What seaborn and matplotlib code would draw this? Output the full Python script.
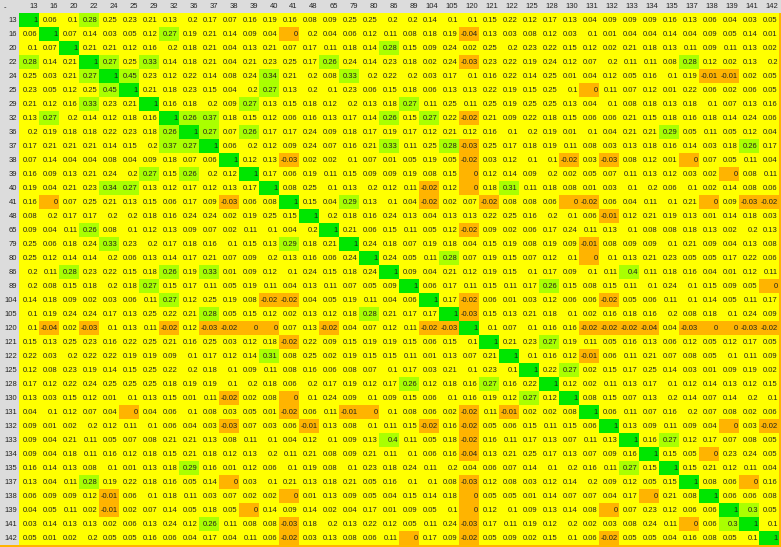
import matplotlib
matplotlib.use("Agg")
import matplotlib.pyplot as plt
import numpy as np
import seaborn as sns
from matplotlib.colors import ListedColormap, BoundaryNorm
from matplotlib.patches import Rectangle

labels = ["13", "16", "20", "22", "24", "25", "29", "32", "36", "37",
          "38", "39", "40", "41", "48", "65", "79", "80", "86", "89",
          "104", "105", "120", "121", "122", "125", "128", "130", "131", "132",
          "133", "134", "135", "137", "138", "139", "141", "142"]

# upper triangle of the correlation table, each row starts at the diagonal
row_13 = [1, 0.06, 0.1, 0.28, 0.25, 0.23, 0.21, 0.13, 0.2, 0.17, 0.07, 0.16, 0.19, 0.16, 0.08, 0.09, 0.25, 0.25, 0.2, 0.2,
          0.14, 0.1, 0.1, 0.15, 0.22, 0.12, 0.17, 0.13, 0.04, 0.09, 0.09, 0.09, 0.16, 0.13, 0.06, 0.04, 0.03, 0.05]
row_16 = [1, 0.07, 0.14, 0.03, 0.05, 0.12, 0.27, 0.19, 0.21, 0.14, 0.09, 0.04, 0, 0.2, 0.04, 0.06, 0.12, 0.11, 0.08,
          0.18, 0.19, -0.04, 0.13, 0.03, 0.08, 0.12, 0.03, 0.1, 0.01, 0.04, 0.04, 0.14, 0.04, 0.09, 0.05, 0.14, 0.01]
row_20 = [1, 0.21, 0.21, 0.12, 0.16, 0.2, 0.18, 0.21, 0.04, 0.13, 0.21, 0.07, 0.17, 0.11, 0.18, 0.14, 0.28, 0.15,
          0.09, 0.24, 0.02, 0.25, 0.2, 0.23, 0.22, 0.15, 0.12, 0.02, 0.21, 0.18, 0.13, 0.11, 0.09, 0.11, 0.13, 0.02]
row_22 = [1, 0.27, 0.25, 0.33, 0.14, 0.18, 0.21, 0.04, 0.21, 0.23, 0.25, 0.17, 0.26, 0.24, 0.14, 0.23, 0.18,
          0.02, 0.24, -0.03, 0.23, 0.22, 0.19, 0.24, 0.12, 0.07, 0.2, 0.11, 0.11, 0.08, 0.28, 0.12, 0.02, 0.13, 0.2]
row_24 = [1, 0.45, 0.23, 0.12, 0.22, 0.14, 0.08, 0.24, 0.34, 0.21, 0.2, 0.08, 0.33, 0.2, 0.22, 0.2,
          0.03, 0.17, 0.1, 0.16, 0.22, 0.14, 0.25, 0.01, 0.04, 0.12, 0.05, 0.16, 0.1, 0.19, -0.01, -0.01, 0.02, 0.05]
row_25 = [1, 0.21, 0.18, 0.23, 0.15, 0.04, 0.2, 0.27, 0.13, 0.2, 0.1, 0.23, 0.06, 0.15, 0.18,
          0.06, 0.13, 0.13, 0.22, 0.19, 0.15, 0.25, 0.1, 0, 0.11, 0.07, 0.12, 0.01, 0.22, 0.06, 0.02, 0.06, 0.05]
row_29 = [1, 0.16, 0.18, 0.2, 0.09, 0.27, 0.13, 0.15, 0.18, 0.12, 0.2, 0.13, 0.18, 0.27,
          0.11, 0.25, 0.11, 0.25, 0.19, 0.25, 0.25, 0.13, 0.04, 0.1, 0.08, 0.18, 0.13, 0.18, 0.1, 0.07, 0.13, 0.16]
row_32 = [1, 0.26, 0.37, 0.18, 0.15, 0.12, 0.06, 0.16, 0.13, 0.17, 0.14, 0.26, 0.15,
          0.27, 0.22, -0.02, 0.21, 0.09, 0.22, 0.18, 0.15, 0.06, 0.06, 0.21, 0.15, 0.18, 0.16, 0.18, 0.14, 0.24, 0.06]
row_36 = [1, 0.27, 0.07, 0.26, 0.17, 0.17, 0.24, 0.09, 0.18, 0.17, 0.19, 0.17,
          0.12, 0.21, 0.12, 0.16, 0.1, 0.2, 0.19, 0.01, 0.1, 0.04, 0.21, 0.21, 0.29, 0.05, 0.11, 0.05, 0.12, 0.04]
row_37 = [1, 0.06, 0.2, 0.12, 0.09, 0.24, 0.07, 0.16, 0.21, 0.33, 0.11,
          0.25, 0.28, -0.03, 0.25, 0.17, 0.18, 0.19, 0.11, 0.08, 0.03, 0.13, 0.18, 0.16, 0.14, 0.03, 0.18, 0.26, 0.17]
row_38 = [1, 0.12, 0.13, -0.03, 0.02, 0.02, 0.1, 0.07, 0.01, 0.05,
          0.19, 0.05, -0.02, 0.03, 0.12, 0.1, 0.1, -0.02, 0.03, -0.03, 0.08, 0.12, 0.01, 0, 0.07, 0.05, 0.11, 0.04]
row_39 = [1, 0.17, 0.06, 0.19, 0.11, 0.15, 0.09, 0.09, 0.19,
          0.08, 0.15, 0, 0.12, 0.14, 0.09, 0.2, 0.02, 0.05, 0.07, 0.11, 0.13, 0.12, 0.03, 0.02, 0, 0.08, 0.11]
row_40 = [1, 0.08, 0.25, 0.1, 0.13, 0.2, 0.12, 0.11,
          -0.02, 0.12, 0, 0.18, 0.31, 0.11, 0.18, 0.08, 0.01, 0.03, 0.1, 0.2, 0.06, 0.1, 0.02, 0.14, 0.08, 0.06]
row_41 = [1, 0.15, 0.04, 0.29, 0.13, 0.1, 0.04,
          -0.02, 0.02, 0.07, -0.02, 0.08, 0.08, 0.06, 0, -0.02, 0.06, 0.04, 0.11, 0.1, 0.21, 0, 0.09, -0.03, -0.02]
row_48 = [1, 0.2, 0.18, 0.16, 0.24, 0.13,
          0.04, 0.13, 0.13, 0.22, 0.25, 0.16, 0.2, 0.1, 0.06, -0.01, 0.12, 0.21, 0.19, 0.13, 0.01, 0.14, 0.18, 0.03]
row_65 = [1, 0.21, 0.06, 0.15, 0.11,
          0.05, 0.12, -0.02, 0.09, 0.02, 0.06, 0.17, 0.24, 0.11, 0.13, 0.1, 0.08, 0.08, 0.18, 0.13, 0.02, 0.2, 0.13]
row_79 = [1, 0.24, 0.18, 0.07,
          0.19, 0.18, 0.04, 0.15, 0.19, 0.08, 0.19, 0.09, -0.01, 0.08, 0.09, 0.09, 0.1, 0.21, 0.09, 0.04, 0.13, 0.08]
row_80 = [1, 0.24, 0.05,
          0.11, 0.28, 0.07, 0.19, 0.15, 0.07, 0.12, 0.1, 0, 0.1, 0.13, 0.21, 0.23, 0.05, 0.05, 0.17, 0.22, 0.06]
row_86 = [1, 0.09,
          0.04, 0.21, 0.12, 0.19, 0.15, 0.1, 0.17, 0.09, 0.1, 0.11, 0.4, 0.11, 0.18, 0.16, 0.04, 0.01, 0.12, 0.11]
row_89 = [1,
          0.06, 0.17, 0.11, 0.15, 0.11, 0.17, 0.26, 0.15, 0.08, 0.15, 0.11, 0.1, 0.24, 0.1, 0.15, 0.09, 0.05, 0]
row_104 = [1, 0.17, -0.02, 0.06, 0.01, 0.03, 0.12, 0.06, 0.06, -0.02, 0.05, 0.06, 0.11, 0.1, 0.14, 0.05, 0.11, 0.17]
row_105 = [1, -0.03, 0.15, 0.13, 0.21, 0.18, 0.1, 0.02, 0.16, 0.18, 0.16, 0.2, 0.08, 0.18, 0.1, 0.24, 0.09]
row_120 = [1, 0.1, 0.07, 0.1, 0.16, 0.16, -0.02, -0.02, -0.02, -0.04, 0.04, -0.03, 0, 0, -0.03, -0.02]
row_121 = [1, 0.21, 0.23, 0.27, 0.19, 0.11, 0.05, 0.16, 0.13, 0.06, 0.12, 0.05, 0.12, 0.17, 0.05]
row_122 = [1, 0.1, 0.16, 0.12, -0.01, 0.06, 0.11, 0.21, 0.07, 0.08, 0.05, 0.1, 0.11, 0.09]
row_125 = [1, 0.22, 0.27, 0.02, 0.15, 0.17, 0.25, 0.14, 0.03, 0.01, 0.09, 0.19, 0.02]
row_128 = [1, 0.12, 0.02, 0.11, 0.13, 0.17, 0.1, 0.12, 0.14, 0.13, 0.12, 0.15]
row_130 = [1, 0.08, 0.15, 0.07, 0.13, 0.2, 0.14, 0.07, 0.14, 0.2, 0.1]
row_131 = [1, 0.06, 0.11, 0.07, 0.16, 0.2, 0.07, 0.08, 0.02, 0.06]
row_132 = [1, 0.13, 0.09, 0.11, 0.09, 0.04, 0, 0.03, -0.02]
row_133 = [1, 0.16, 0.27, 0.12, 0.17, 0.07, 0.08, 0.05]
row_134 = [1, 0.15, 0.05, 0, 0.23, 0.24, 0.05]
row_135 = [1, 0.15, 0.21, 0.12, 0.11, 0.04]
row_137 = [1, 0.08, 0.06, 0, 0.16]
row_138 = [1, 0.06, 0.06, 0.08]
row_139 = [1, 0.3, 0.05]
row_141 = [1, 0.1]
row_142 = [1]

upper_rows = [row_13, row_16, row_20, row_22, row_24, row_25, row_29, row_32, row_36, row_37,
              row_38, row_39, row_40, row_41, row_48, row_65, row_79, row_80, row_86, row_89,
              row_104, row_105, row_120, row_121, row_122, row_125, row_128, row_130, row_131, row_132,
              row_133, row_134, row_135, row_137, row_138, row_139, row_141, row_142]

n = len(labels)
corr = np.zeros((n, n))
for i, r in enumerate(upper_rows):
    corr[i, i:] = r
    corr[i:, i] = r
annot = np.vectorize(lambda v: f"{v:g}")(corr)

plt.rcParams["font.family"] = ["Liberation Sans", "DejaVu Sans"]

# orange <= 0, yellow, light green > 0.25, green for the diagonal
cmap = ListedColormap(["#ffb400", "#ffff00", "#aaff00", "#00e600"])
norm = BoundaryNorm([-1, 0.001, 0.255, 0.999, 1.01], cmap.N)

fig = plt.figure(figsize=(7.81, 5.47), dpi=100, facecolor="#dcdcdc")
ax = fig.add_axes([19 / 781, 2.5 / 547, 760 / 781, 532 / 547])
sns.heatmap(corr, ax=ax, cmap=cmap, norm=norm, cbar=False, annot=annot, fmt="",
            annot_kws=dict(fontsize=5.5, color="#222222"))

for t in ax.texts:
    x, y = t.get_position()
    t.set_position((x + 0.44, y + 0.04))
    t.set_ha("right")

ax.xaxis.tick_top()
ax.set_xticks(np.arange(n) + 0.94)
ax.set_xticklabels(labels, ha="right", fontsize=5.5, color="#222222")
ax.set_yticks(np.arange(n) + 0.55)
ax.set_yticklabels(labels, rotation=0, fontsize=5.5, color="#222222")
ax.tick_params(length=0, pad=1.5)
ax.set_xlabel("")
ax.set_ylabel("")

fig.text(4 / 781, 1 - 8 / 547, "-", fontsize=5.5, color="#222222", va="center")

# orange frame along the bottom and right edge of the table
fig.patches.append(Rectangle((0, 0), 1, 2.5 / 547, transform=fig.transFigure,
                             facecolor="#ffb400", edgecolor="none"))
fig.patches.append(Rectangle((779 / 781, 0), 2 / 781, 534.5 / 547, transform=fig.transFigure,
                             facecolor="#ffb400", edgecolor="none"))

fig.savefig("out.png", dpi=100, facecolor=fig.get_facecolor())
